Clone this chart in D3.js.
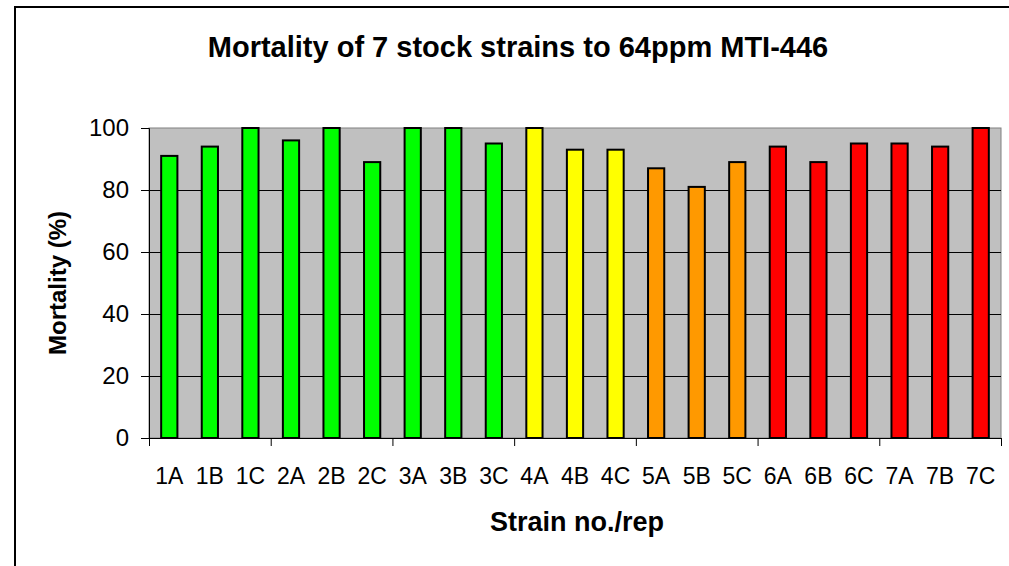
<!DOCTYPE html>
<html>
<head>
<meta charset="utf-8">
<script src="https://cdn.jsdelivr.net/npm/d3@7"></script>
<style>
  body { margin: 0; background: #fff; }
  svg { display: block; font-family: Arial, "Liberation Sans", sans-serif; }
</style>
</head>
<body>
<script>
// data
var strains = ["1A", "1B", "1C", "2A", "2B", "2C", "3A", "3B", "3C", "4A", "4B",
               "4C", "5A", "5B", "5C", "6A", "6B", "6C", "7A", "7B", "7C"];
var mortality = [91, 94, 100, 96, 100, 89, 100, 100, 95, 100, 93,
                 93, 87, 81, 89, 94, 89, 95, 95, 94, 100];
var strainGroup = [1, 1, 1, 1, 1, 1, 1, 1, 1, 4, 4, 4, 5, 5, 5, 6, 6, 6, 6, 6, 6];
var yTicks = [0, 20, 40, 60, 80, 100];

var width = 1009, height = 566;
var plotLeft = 149, plotRight = 1001, plotTop = 128, plotBottom = 438;

var colour = d3.scaleOrdinal()
    .domain([1, 4, 5, 6])
    .range(["#00ff00", "#ffff00", "#ff9900", "#ff0000"]);

var svg = d3.select("body").append("svg")
    .attr("width", width)
    .attr("height", height);

// outer chart frame (runs off the picture on the right and bottom)
svg.append("rect")
    .attr("x", 15).attr("y", 7)
    .attr("width", 1100).attr("height", 700)
    .attr("fill", "#fff")
    .attr("stroke", "#000")
    .attr("stroke-width", 2);

var x = d3.scaleBand()
    .domain(strains)
    .range([plotLeft, plotRight])
    .paddingInner(0.6)
    .paddingOuter(0.3);

var y = d3.scaleLinear()
    .domain([0, 100])
    .range([plotBottom, plotTop]);

// plot background
svg.append("rect")
    .attr("x", plotLeft).attr("y", plotTop)
    .attr("width", plotRight - plotLeft).attr("height", plotBottom - plotTop)
    .attr("fill", "#c0c0c0")
    .attr("stroke", "#808080")
    .attr("stroke-width", 1);

// gridlines
svg.append("g")
    .selectAll("line")
    .data(yTicks.filter(function (d) { return d > 0 && d < 100; }))
    .enter().append("line")
    .attr("x1", plotLeft).attr("x2", plotRight)
    .attr("y1", function (d) { return y(d) + 0.5; })
    .attr("y2", function (d) { return y(d) + 0.5; })
    .attr("stroke", "#000")
    .attr("stroke-width", 1);

// bars
svg.append("g")
    .selectAll("rect")
    .data(strains)
    .enter().append("rect")
    .attr("x", function (d) { return x(d); })
    .attr("y", function (d, i) { return y(mortality[i]); })
    .attr("width", x.bandwidth())
    .attr("height", function (d, i) { return plotBottom - y(mortality[i]); })
    .attr("fill", function (d, i) { return colour(strainGroup[i]); })
    .attr("stroke", "#000")
    .attr("stroke-width", 2);

// y axis
var yAxis = svg.append("g")
    .attr("transform", "translate(" + plotLeft + ",0)")
    .call(d3.axisLeft(y).tickValues(yTicks).tickSize(8).tickPadding(12));
yAxis.selectAll("text")
    .attr("font-size", 24)
    .attr("font-family", "Arial, 'Liberation Sans', sans-serif")
    .attr("fill", "#000");
yAxis.selectAll("line").attr("stroke", "#000");
yAxis.select(".domain").attr("stroke", "#000");

// x axis: tick marks every 3 categories, labels under each bar
var step = x.step();
var xTickPos = d3.range(0, strains.length + 1, 3);
svg.append("line")
    .attr("x1", plotLeft).attr("x2", plotRight)
    .attr("y1", plotBottom + 0.5).attr("y2", plotBottom + 0.5)
    .attr("stroke", "#000");
svg.append("g")
    .selectAll("line")
    .data(xTickPos)
    .enter().append("line")
    .attr("x1", function (d) { return plotLeft + d * step + 0.5; })
    .attr("x2", function (d) { return plotLeft + d * step + 0.5; })
    .attr("y1", plotBottom).attr("y2", plotBottom + 8)
    .attr("stroke", "#000");
svg.append("g")
    .selectAll("text")
    .data(strains)
    .enter().append("text")
    .attr("x", function (d) { return x(d) + x.bandwidth() / 2; })
    .attr("y", 484)
    .attr("text-anchor", "middle")
    .attr("font-size", 23)
    .text(function (d) { return d; });

// titles
svg.append("text")
    .attr("x", 518).attr("y", 57)
    .attr("text-anchor", "middle")
    .attr("font-size", 29)
    .attr("font-weight", "bold")
    .text("Mortality of 7 stock strains to 64ppm MTI-446");

svg.append("text")
    .attr("x", 577).attr("y", 531)
    .attr("text-anchor", "middle")
    .attr("font-size", 27)
    .attr("font-weight", "bold")
    .text("Strain no./rep");

svg.append("text")
    .attr("transform", "translate(66," + (plotTop + plotBottom) / 2 + ") rotate(-90)")
    .attr("text-anchor", "middle")
    .attr("font-size", 24)
    .attr("font-weight", "bold")
    .text("Mortality (%)");
</script>
</body>
</html>
